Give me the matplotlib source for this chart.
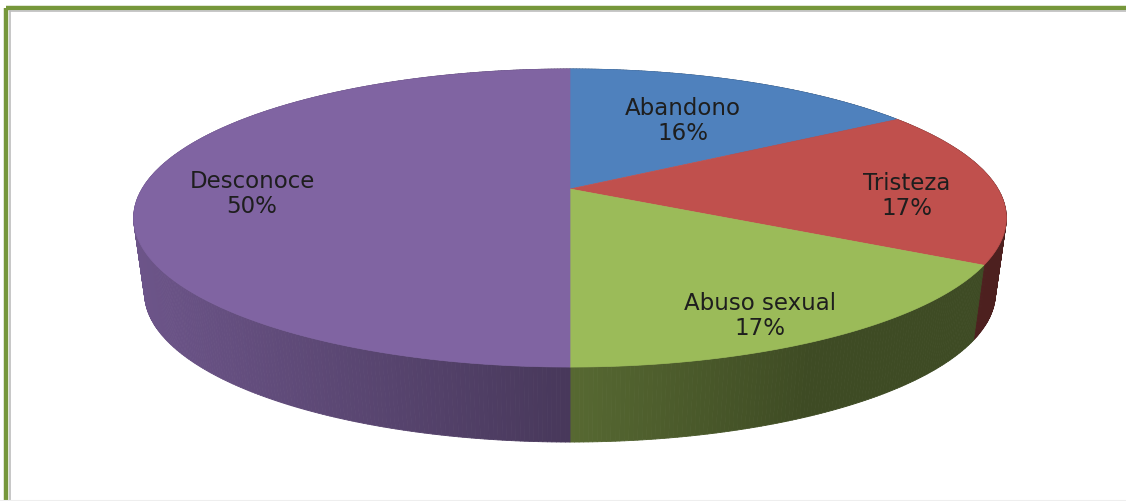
import numpy as np
import matplotlib
matplotlib.use("Agg")
import matplotlib.pyplot as plt
from matplotlib.collections import PolyCollection
from matplotlib.colors import to_rgb

# Data
labels = ["Abandono", "Tristeza", "Abuso sexual", "Desconoce"]
values = [16, 17, 17, 50]
colors = ["#4F81BD", "#C0504D", "#9BBB59", "#8064A2"]

# Label anchor points (pixel space)
label_pos = [(683, 121), (907, 196), (760, 316), (252, 194)]

W, H = 1126, 502
fig = plt.figure(figsize=(W / 100, H / 100), dpi=100)
fig.patch.set_facecolor("white")
ax = fig.add_axes([0, 0, 1, 1])
ax.set_xlim(0, W)
ax.set_ylim(H, 0)
ax.axis("off")

# 3D pie geometry: tilted disc seen in perspective
CX, CY = 570.0, 190.0
RX, RY, PERSP = 428.0, 143.4, 0.1946
DEPTH, BOTTOM_SCALE = 75.0, 0.975


def top_xy(t):
    d = 1 + PERSP * np.cos(t)
    return CX + RX * np.sin(t) / d, CY - RY * np.cos(t) / d


def bottom_xy(t):
    x, y = top_xy(t)
    return CX + (x - CX) * BOTTOM_SCALE, y + DEPTH


fractions = np.array(values, dtype=float) / sum(values)
edges = np.concatenate([[0.0], np.cumsum(fractions)]) * 2 * np.pi

# Side wall, shaded darker towards the right
quads, qcolors, qdepth = [], [], []
for i, c in enumerate(colors):
    t0, t1 = edges[i], edges[i + 1]
    n = max(int(np.degrees(t1 - t0) / 0.5), 2)
    ts = np.linspace(t0, t1, n + 1)
    xt, yt = top_xy(ts)
    xb, yb = bottom_xy(ts)
    base = np.array(to_rgb(c))
    for j in range(n):
        poly = [(xt[j], yt[j]), (xt[j + 1], yt[j + 1]),
                (xb[j + 1], yb[j + 1]), (xb[j], yb[j])]
        xm = 0.5 * (xt[j] + xt[j + 1])
        f = np.clip(0.56 - 0.00066 * (xm - CX), 0.40, 0.9)
        quads.append(poly)
        qcolors.append(tuple(base * f))
        qdepth.append(np.cos(0.5 * (ts[j] + ts[j + 1])))

order = np.argsort(qdepth)[::-1]
pc = PolyCollection([quads[k] for k in order],
                    facecolors=[qcolors[k] for k in order],
                    edgecolors=[qcolors[k] for k in order],
                    linewidths=0.6)
ax.add_collection(pc)

# Top faces
for i, c in enumerate(colors):
    t0, t1 = edges[i], edges[i + 1]
    ts = np.linspace(t0, t1, 200)
    xt, yt = top_xy(ts)
    xs = np.concatenate([[CX], xt])
    ys = np.concatenate([[CY], yt])
    ax.fill(xs, ys, facecolor=c, edgecolor=c, linewidth=0.5, zorder=3)

# Labels
for (x, y), name, v in zip(label_pos, labels, values):
    ax.text(x, y, f"{name}\n{v}%", ha="center", va="center",
            multialignment="center", fontsize=16.5, color="#1E1E1E",
            family="DejaVu Sans", linespacing=1.1, zorder=5)

# Chart frame
ax.plot([6, 6], [9, H], color="#76973B", lw=3.2, solid_capstyle="butt", zorder=6)
ax.plot([6, W], [9, 9], color="#76973B", lw=3.2, solid_capstyle="butt", zorder=6)
ax.plot([9.8, 9.8], [11.8, H], color="#BDBDBD", lw=1.2, zorder=6)
ax.plot([9.8, W], [11.8, 11.8], color="#BDBDBD", lw=1.2, zorder=6)
ax.plot([0, W], [500.5, 500.5], color="#EEEEEE", lw=0.8, zorder=6)

fig.savefig("out.png", dpi=100, facecolor="white")
